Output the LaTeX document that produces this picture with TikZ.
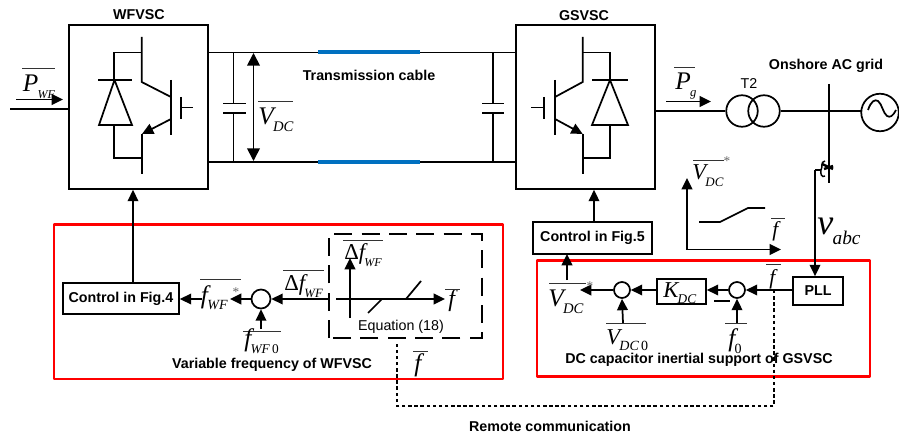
\documentclass[tikz,border=0pt]{standalone}
\usepackage{fontspec}
\setmainfont{Liberation Sans}
\newfontfamily\tms{Liberation Serif}
\usetikzlibrary{arrows.meta,calc}
\newcommand{\BigSub}[4]{{\tms\itshape\fontsize{#3}{#3}\selectfont #1\raisebox{-0.27em}{\kern-0.5pt\fontsize{#4}{#4}\selectfont #2}}}
\newcommand{\ItalF}[1]{{\tms\itshape\fontsize{#1}{#1}\selectfont f}}
\tikzset{
  wire/.style={line width=1.3pt,black},
  arr/.style={wire,-{Triangle[length=8.5pt,width=8pt]}},
  arrb/.style={wire,{Triangle[length=9.5pt,width=9.5pt]}-{Triangle[length=9.5pt,width=9.5pt]}},
  box/.style={draw,line width=1.3pt,inner sep=0pt,fill=white},
  redbox/.style={draw=red,line width=2.2pt,line join=round},
  blab/.style={font=\bfseries\fontsize{10.7}{12}\selectfont,inner sep=0pt},
  rlab/.style={font=\fontsize{10.7}{12}\selectfont,inner sep=0pt},
  mlab/.style={inner sep=0pt,anchor=base west},
  bar/.style={line width=0.6pt,black!80},
  sumc/.style={circle,draw,line width=1.3pt,inner sep=0pt,fill=white},
  star/.style={inner sep=0pt,text=black!60,font=\tms\fontsize{10}{10}\selectfont},
  cable/.style={line width=3pt,color={rgb,255:red,0;green,112;blue,192}},
  dots/.style={line width=1.1pt,black,dash pattern=on 2.6pt off 2pt},
  dashb/.style={line width=1.4pt,black,dash pattern=on 13.5pt off 7pt},
}
\begin{document}
\begin{tikzpicture}[x=0.75pt,y=-0.75pt]
\useasboundingbox (0,0) rectangle (899,438);
% red frames
\draw[redbox] (54,224.5) rectangle (503,379);
\draw[redbox] (537,260.5) rectangle (870,376.7);
% converters
\node[box,minimum width=139*0.75pt,minimum height=164*0.75pt] (wf) at (138.5,107) {};
\node[box,minimum width=139*0.75pt,minimum height=164*0.75pt] (gs) at (585.5,107) {};
\node[blab] (wft) at (139,15) {WFVSC};
\node[blab] (gst) at (584,16) {GSVSC};
% DC link
\coordinate (t1) at (208,52.5); \coordinate (t2) at (516,52.5);
\coordinate (b1) at (208,162); \coordinate (b2) at (516,162);
\draw[wire] (t1)--(t2); \draw[wire] (b1)--(b2);
\draw[cable] (318,52.5)--(420,52.5); \draw[cable] (318,162)--(420,162);
\node[blab] (tc) at (369,75) {Transmission cable};
% capacitors
\draw[wire] (233.5,52.5)--(233.5,103.5) (233.5,113)--(233.5,162) (223,103.5)--(246,103.5) (223,113)--(246,113);
\draw[wire] (493,52.5)--(493,103.5) (493,113)--(493,162) (482,103.5)--(504,103.5) (482,113)--(504,113);
\draw[arrb] (253.5,53)--(253.5,161);
\node[mlab] (vdc) at (258,125) {\BigSub{V}{DC}{19}{11}};
\draw[bar] (258,101)--(293,101);
% WF switch
\draw[wire,line join=miter] (141.7,37)--(141.7,82)--(171,97);
\draw[wire] (171,80)--(171,135);
\draw[wire] (181,97)--(181,119) (181,107.5)--(193,107.5);
\draw[wire,-{Triangle[length=8.5pt,width=8pt]}] (171,119)--(142,134);
\draw[wire] (141.7,134)--(141.7,174);
\draw[wire] (141.7,52.5)--(114,52.5)--(114,80) (98,80)--(132,80);
\draw[wire,line join=miter] (114.5,80)--(99,125)--(132,125)--cycle;
\draw[wire] (114,125)--(114,158)--(141.7,158);
% GS switch
\draw[wire] (582.7,37)--(582.7,82)--(555,97);
\draw[wire] (555,80)--(555,135);
\draw[wire] (544,97)--(544,119) (544,107.5)--(531,107.5);
\draw[wire,-{Triangle[length=8.5pt,width=8pt]}] (555,119)--(582.7,134);
\draw[wire] (582.7,134)--(582.7,174);
\draw[wire] (582.7,52.5)--(610,52.5)--(610,80) (592,80)--(628,80);
\draw[wire,line join=miter] (610,80)--(592,125)--(628,125)--cycle;
\draw[wire] (610,125)--(610,158)--(582.7,158);
% P_WF
\coordinate (pwfin) at (10,109);
\draw[wire] (pwfin)--(wf.west |- pwfin);
\coordinate (pa1) at (16,99.5); \coordinate (pa2) at (63,99.5);
\draw[arr] (pa1)--(pa2);
\node[mlab] (pwf) at (22.5,91.7) {\BigSub{P}{WF}{19}{9}};
\draw[bar] (22,68)--(55,68);
% grid side
\coordinate (out) at (655,111);
\node[circle,draw,line width=1.3pt,inner sep=0pt,minimum size=31.5*0.75pt] (tr1) at (742,111) {};
\node[circle,draw,line width=1.3pt,inner sep=0pt,minimum size=31.5*0.75pt] (tr2) at (764,111) {};
\node[circle,draw,line width=1.3pt,inner sep=0pt,minimum size=37.5*0.75pt] (src) at (880,112.5) {};
\draw[wire] (out)--(tr1.west) (tr2.east)--(861,111);
\draw[wire] (868,110) .. controls (871,101) and (875,99) .. (878,101) .. controls (882,104) and (883,113) .. (887,116) .. controls (890,118) and (893,116) .. (896,110);
\coordinate (pg1) at (666,101.5); \coordinate (pg2) at (711,101.5);
\draw[arr] (pg1)--(pg2);
\node[mlab] (pg) at (675,89.3) {\BigSub{P}{g}{19}{9.5}};
\draw[bar] (674,67)--(695,67);
\node[rlab] (t2lab) at (749,84) {T2};
\node[blab] (on) at (826,66) {Onshore AC grid};
\draw[wire] (828.7,84)--(828.7,183);
% CT and PLL wire
\node[box,minimum width=50*0.75pt,minimum height=28*0.75pt,font=\bfseries\fontsize{10.7}{12}\selectfont] (pll) at (818,291) {PLL};
\coordinate (ct) at (815,170);
\coordinate (cte) at (821,170);
\draw[wire] (ct) -- (cte);
\draw[arr] (ct)--(ct |- pll.north);
\draw[line width=1.1pt] (825,161) .. controls (820,162) and (823,167) .. (821,170) .. controls (820,174) and (822,178) .. (825,176);
\draw[line width=1.8pt] (822,164)--(833,169) (824,169)--(833,166);
\node[mlab] (vabc) at (817,235) {\BigSub{v}{abc}{27}{14.5}};
% V-f graph
\coordinate (gO) at (687,249.5);
\coordinate (gY) at (687,178);
\coordinate (gX) at (781,249.5);
\draw[arr,line cap=rect] (gO)--(gY);
\draw[arr] (gO)--(gX);
\draw[wire] (699,222)--(720,222)--(748,208)--(765,208);
\node[mlab] (gf) at (772,237) {\ItalF{16}};
\draw[bar] (771,218)--(785,218);
\node[mlab] (gv) at (692,180) {\BigSub{V}{DC}{17}{9.7}};
\draw[bar] (693,160)--(724,160);
\node[star] (gs1) at (727,161) {*};
% Control Fig 5
\node[box,blab,minimum width=119*0.75pt,minimum height=32*0.75pt,inner sep=0pt] (c5) at (592.5,238) {Control in Fig.5};
\coordinate (c5t) at (594,222);
\draw[arr] (c5t)--(c5t |- gs.south);
% lower right row
\node[sumc,minimum size=16*0.75pt] (s1) at (622,290) {};
\node[box,minimum width=49*0.75pt,minimum height=25*0.75pt] (kdc) at (681.5,291.5) {};
\node[mlab] (kt) at (663,297.7) {\BigSub{K}{DC}{17}{10}};
\node[sumc,minimum size=16*0.75pt] (s2) at (737,290) {};
\coordinate (vstar) at (580,290);
\draw[arr] (pll.west |- s2) -- (s2.east);
\draw[arr] (s2.west)--(kdc.east |- s2);
\draw[arr] (kdc.west |- s1)--(s1.east);
\draw[arr] (s1.west)--(vstar);
\coordinate (vu1) at (567,280); \coordinate (vu2) at (567,254);
\draw[arr] (vu1)--(vu2);
\node[mlab] (rv) at (548,306.7) {\BigSub{V}{DC}{19}{11}};
\draw[bar] (549,283)--(586,283);
\node[star] (rs) at (590,286) {*};
\coordinate (v0) at (623,323);
\draw[arr] (v0)--(s1.south);
\draw[bar] (606,323)--(646,323);
\node[mlab] (rv0) at (606,344) {\BigSub{V}{DC\,\upshape 0}{17}{10.5}};
\coordinate (f0) at (737,323);
\draw[arr] (f0)--(s2.south);
\draw[bar] (725,323)--(747,323);
\node[mlab] (rf0) at (728,346.7) {\BigSub{f}{\upshape 0}{19}{10.5}};
\draw[line width=1.5pt] (714,300.7)--(730,300.7);
\node[mlab] (rf) at (769,284) {\ItalF{16}};
\draw[bar] (766,264)--(781,264);
\node[blab] (dct) at (699,360) {DC capacitor inertial support of GSVSC};
% remote comm
\coordinate (d1) at (774,290); \coordinate (d2) at (774,406); \coordinate (d3) at (397,406); \coordinate (d4) at (397,342);
\draw[dots] (d1)--(d2)--(d3)--(d4);
\node[blab] (rc) at (550,426) {Remote communication};
\node[mlab] (df) at (414,371.7) {\ItalF{19}};
\draw[bar] (413,351)--(428,351);
% lower left
\node[box,blab,minimum width=116*0.75pt,minimum height=31*0.75pt] (c4) at (121,298.5) {Control in Fig.4};
\coordinate (c4t) at (133,283);
\draw[arr] (c4t)--(c4t |- wf.south);
\node[sumc,minimum size=19*0.75pt] (s3) at (261,299) {};
\coordinate (dash) at (328,299);
\coordinate (lab1) at (202,299); \coordinate (lab2) at (230,299);
\draw[arr] (dash)--(s3.east);
\draw[arr] (s3.west)--(lab2);
\draw[arr] (lab1)--(c4.east |- lab1);
\node[mlab] (fwf) at (200.7,303) {\BigSub{f}{WF}{19}{10.5}};
\draw[bar] (200,279)--(241,279);
\node[star] (s4) at (236,292) {*};
\coordinate (f0w) at (261,329);
\draw[arr] (f0w)--(s3.south);
\draw[bar] (243,331)--(281,331);
\node[mlab] (fwf0) at (244,346.7) {\BigSub{f}{WF\,\upshape 0}{19}{10}};
\node[mlab] (dfw) at (284,291) {\BigSub{{\upshape Δ}f}{WF}{17}{9.5}};
\draw[bar] (283,270)--(324,270);
\draw[dashb] (329,338)--(329,234)--(482,234)--(482,338)--(329,338);
\coordinate (ax0) at (336,299); \coordinate (ax1) at (445,299);
\coordinate (ay0) at (350,318); \coordinate (ay1) at (350,258);
\draw[arr] (ax0)--(ax1); \draw[arr] (ay0)--(ay1);
\draw[wire] (368,313)--(382,299)--(406,299)--(421,281);
\node[mlab] (af) at (448,306) {\ItalF{18}};
\draw[bar] (445,289)--(460,289);
\node[mlab] (adf) at (344,260) {\BigSub{{\upshape Δ}f}{WF}{17}{9}};
\draw[bar] (343,240)--(383,240);
\node[rlab] (eq) at (401,327) {Equation (18)};
\node[blab] (vf) at (272,365) {Variable frequency of WFVSC};
\end{tikzpicture}
\end{document}
